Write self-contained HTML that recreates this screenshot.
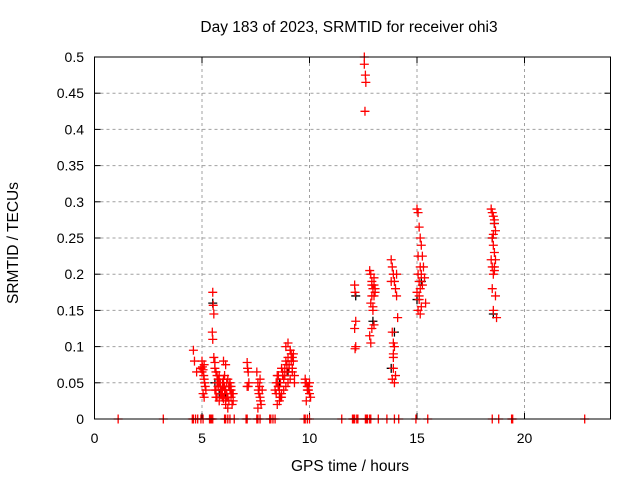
<!DOCTYPE html>
<html><head><meta charset="utf-8"><style>
body{margin:0;background:#fff;}
svg{font-family:"Liberation Sans",sans-serif;font-size:14px;}
.big{font-size:15.5px;}
</style></head><body>
<svg id="c" width="640" height="480">
<rect x="0" y="0" width="640" height="480" fill="#fff"/>
<text class="big" x="349" y="32" text-anchor="middle">Day 183 of 2023, SRMTID for receiver ohi3</text>
<text class="big" x="350" y="471" text-anchor="middle">GPS time / hours</text>
<text class="big" transform="translate(18,243) rotate(-90)" text-anchor="middle">SRMTID / TECUs</text>
<g id="grid"></g><g id="ticks"></g><g id="marks"></g>
<rect x="94.5" y="57" width="516" height="362" fill="none" stroke="#000"/>
</svg>
<script>
const xTicks=[0,5,10,15,20];
const yTicks=[0,0.05,0.1,0.15,0.2,0.25,0.3,0.35,0.4,0.45,0.5];
const yTickLabels=["0","0.05","0.1","0.15","0.2","0.25","0.3","0.35","0.4","0.45","0.5"];
const redHours=[4.6,4.65,4.75,5.0,5.02,5.05,5.08,5.1,5.12,5.15,5.18,5.05,5.1,4.95,5.0,5.1,
5.5,5.52,5.55,5.48,5.5,5.55,5.6,5.6,5.65,5.7,5.75,5.8,5.85,5.9,5.95,6.0,6.05,6.1,6.15,6.2,6.25,6.3,6.35,6.4,6.45,5.7,5.8,5.9,6.0,6.1,6.2,6.3,5.65,5.75,5.85,5.95,6.05,6.15,6.25,6.35,6.45,6.0,6.1,5.6,5.7,5.8,5.9,6.0,6.1,6.2,6.3,6.4,5.65,5.75,5.85,5.95,6.05,6.15,6.25,6.35,
7.1,7.12,7.15,7.1,7.18,7.15,
7.55,7.6,7.62,7.65,7.7,7.72,7.75,7.6,7.68,7.8,7.7,
8.4,8.45,8.5,8.55,8.6,8.65,8.7,8.75,8.8,8.85,8.9,8.95,9.0,9.05,9.1,9.15,9.2,9.25,9.3,8.5,8.6,8.7,8.8,8.9,9.0,9.1,9.2,8.45,8.55,8.65,8.75,8.85,8.95,9.05,9.15,9.25,8.9,9.0,9.1,8.5,8.6,8.7,9.2,9.3,8.55,8.65,
9.8,9.85,9.9,9.95,10.0,10.05,9.85,9.95,10.0,9.9,9.8,
12.1,12.12,12.15,12.1,12.15,12.12,
12.55,12.55,12.6,12.62,12.58,
12.8,12.85,12.9,12.95,13.0,13.05,12.85,12.95,13.0,12.9,12.8,13.05,12.9,12.95,13.0,12.85,12.9,13.0,
13.8,13.85,13.9,13.95,14.0,14.05,14.1,13.85,13.95,13.9,13.9,14.0,13.85,13.95,13.9,14.05,13.8,13.9,
15.0,15.05,15.1,15.15,15.2,15.25,15.3,15.35,15.05,15.1,15.15,15.0,15.1,15.2,15.05,15.15,15.25,15.1,15.4,15.05,15.15,15.2,
18.45,18.5,18.55,18.6,18.65,18.5,18.55,18.6,18.65,18.5,18.6,18.55,18.6,18.45,18.5,18.65,18.55,18.7,18.55,18.6];
const redValues=[0.095,0.08,0.065,0.08,0.072,0.068,0.06,0.055,0.05,0.045,0.04,0.035,0.03,0.07,0.065,0.075,
0.175,0.157,0.145,0.12,0.11,0.085,0.078,0.07,0.065,0.06,0.055,0.05,0.045,0.04,0.05,0.055,0.045,0.04,0.035,0.03,0.045,0.04,0.03,0.02,0.025,0.03,0.025,0.035,0.028,0.02,0.015,0.05,0.04,0.045,0.035,0.03,0.06,0.05,0.045,0.04,0.035,0.08,0.075,0.04,0.05,0.06,0.035,0.045,0.025,0.055,0.05,0.035,0.03,0.045,0.05,0.04,0.035,0.03,0.025,0.045,
0.078,0.07,0.065,0.045,0.05,0.045,
0.065,0.05,0.04,0.035,0.03,0.025,0.02,0.015,0.045,0.04,0.055,
0.04,0.05,0.06,0.045,0.035,0.03,0.07,0.065,0.055,0.06,0.08,0.075,0.085,0.07,0.095,0.09,0.085,0.08,0.06,0.02,0.025,0.03,0.04,0.045,0.05,0.055,0.065,0.035,0.045,0.05,0.06,0.07,0.065,0.075,0.08,0.09,0.1,0.105,0.095,0.05,0.04,0.035,0.07,0.05,0.06,0.03,
0.055,0.05,0.045,0.04,0.035,0.03,0.025,0.045,0.05,0.04,0.05,
0.185,0.175,0.135,0.125,0.1,0.097,
0.5,0.49,0.475,0.465,0.425,
0.205,0.2,0.19,0.18,0.185,0.175,0.16,0.155,0.13,0.125,0.115,0.18,0.17,0.15,0.195,0.105,0.185,0.17,
0.22,0.21,0.2,0.19,0.18,0.17,0.14,0.12,0.1,0.09,0.07,0.06,0.055,0.05,0.085,0.2,0.19,0.105,
0.29,0.285,0.265,0.25,0.24,0.225,0.21,0.195,0.2,0.19,0.18,0.175,0.165,0.155,0.15,0.145,0.185,0.17,0.16,0.225,0.21,0.2,
0.29,0.285,0.28,0.27,0.26,0.25,0.24,0.23,0.22,0.21,0.205,0.2,0.21,0.22,0.18,0.17,0.15,0.14,0.255,0.275];
const blackHours=[5.5,5.6,5.8,6.1,8.6,9.0,12.15,12.95,13.8,13.95,15.0,15.2,18.5,18.55,18.6];
const blackValues=[0.16,0.05,0.035,0.03,0.05,0.065,0.17,0.135,0.07,0.12,0.165,0.19,0.25,0.145,0.27];
const zeroHours=[1.1,3.2,4.55,4.6,4.7,4.8,4.95,5.05,5.35,5.4,5.45,5.5,6.05,6.1,6.2,6.3,6.5,7.05,7.1,7.55,7.6,7.7,8.15,8.2,8.3,8.4,9.75,9.8,9.9,10.0,11.5,12.0,12.05,12.1,12.2,12.25,12.6,12.65,12.7,12.8,12.85,13.2,13.6,13.95,14.15,14.95,15.5,18.5,18.8,19.4,19.45,22.8];
const NS="http://www.w3.org/2000/svg";
const X=h=>94.5+h*21.5, Y=v=>419-v*724;
function mk(t,a,p){const e=document.createElementNS(NS,t);for(const k in a)e.setAttribute(k,a[k]);p.appendChild(e);return e;}
const g=document.getElementById('grid'),tk=document.getElementById('ticks'),m=document.getElementById('marks');
xTicks.forEach(t=>{const x=X(t);
 if(t>0){const l=mk('line',{x1:x,x2:x,y1:57,y2:419,stroke:'#a0a0a0','stroke-dasharray':'3,3'},g);
 
 }
 mk('line',{x1:x,x2:x,y1:419,y2:413,stroke:'#000'},tk);mk('line',{x1:x,x2:x,y1:57,y2:63,stroke:'#000'},tk);
 const s=mk('text',{x:x,y:443,'text-anchor':'middle'},tk);s.textContent=t;
 
 });
yTicks.forEach((t,i)=>{const y=Y(t);
 if(i>0&&i<yTicks.length-1){const l=mk('line',{x1:94.5,x2:610.5,y1:y,y2:y,stroke:'#a0a0a0','stroke-dasharray':'3,3'},g);
 
 }
 mk('line',{x1:94.5,x2:100.5,y1:y,y2:y,stroke:'#000'},tk);mk('line',{x1:610.5,x2:604.5,y1:y,y2:y,stroke:'#000'},tk);
 const s=mk('text',{x:84,y:y+5,'text-anchor':'end'},tk);s.textContent=yTickLabels[i];
 
 });
function plus(h,v,c,name){const x=X(h),y=Y(v);
 const p=mk('path',{d:`M${x-4.5},${y}h9M${x},${y-4.5}v9`,stroke:c,'stroke-width':1.3,fill:'none'},m);
 
 }
blackHours.forEach((h,i)=>plus(h,blackValues[i],'#000','black-point'));
redHours.forEach((h,i)=>plus(h,redValues[i],'#f00','red-point'));
zeroHours.forEach(h=>plus(h,0,'#f00','zero-point'));
</script>
</body></html>
